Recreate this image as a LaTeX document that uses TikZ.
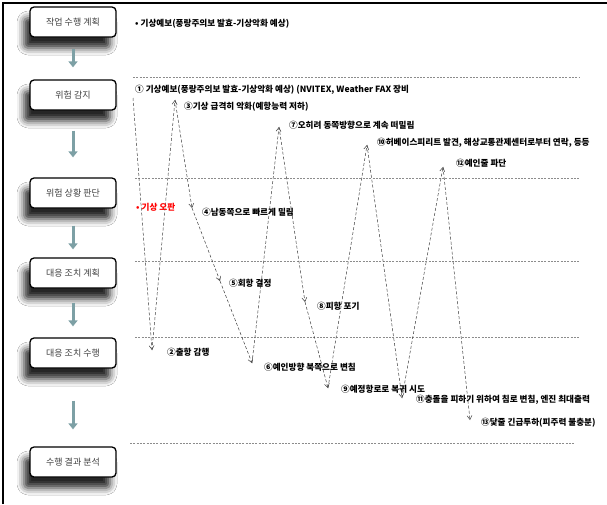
\documentclass[tikz,border=0pt]{standalone}
\usepackage{fontspec}
\newfontfamily\kr{Noto Sans CJK KR}
\usetikzlibrary{arrows.meta,shadows.blur}
\begin{document}
\begin{tikzpicture}[x=1pt,y=-1pt,
  stagebox/.style={draw=black, line width=1.3pt, rounded corners=4pt, fill=white,
    minimum width=86pt, minimum height=30pt, inner sep=0pt,
    font=\kr\fontsize{9}{10}\selectfont, text=black!75,
    blur shadow={shadow xshift=-6pt, shadow yshift=-11pt, shadow blur radius=7pt, shadow opacity=85}},
  flowarrow/.style={draw={rgb,255:red,125;green,160;blue,165}, line width=3pt,
    -{Triangle[length=6pt,width=9pt]}},
  zz/.style={draw=black!75, line width=0.5pt, dash pattern=on 3pt off 2pt,
    -{Straight Barb[length=4pt,width=5pt]}},
  phase/.style={draw=black!45, line width=1pt, dash pattern=on 2pt off 1.3pt},
  lbl/.style={anchor=west, inner sep=0pt, font=\kr\bfseries\fontsize{8.6}{9}\selectfont, text=black},
]
\useasboundingbox (0,0) rectangle (607,504);
\fill[white] (0,0) rectangle (607,504);
% frame
\draw[line width=2.5pt] (3,504) -- (3,3) -- (607,3);

% stage boxes
\node[stagebox] (b1) at (73,22) {작업 수행 계획};
\node[stagebox] (b2) at (73,95) {위험 감지};
\node[stagebox] (b3) at (73,193) {위험 상황 판단};
\node[stagebox] (b4) at (73,273) {대응 조치 계획};
\node[stagebox] (b5) at (73,353) {대응 조치 수행};
\node[stagebox] (b6) at (73,462) {수행 결과 분석};

\draw[flowarrow, shorten <=11pt, shorten >=12pt] (b1.south) -- (b2.north);
\draw[flowarrow, shorten <=20pt, shorten >=20pt] (b2.south) -- (b3.north);
\draw[flowarrow, shorten <=17pt, shorten >=8pt] (b3.south) -- (b4.north);
\draw[flowarrow, shorten <=14pt, shorten >=11pt] (b4.south) -- (b5.north);
\draw[flowarrow, shorten <=32pt, shorten >=17pt] (b5.south) -- (b6.north);

% phase lines
\draw[phase] (133,77) -- (580,77);
\draw[phase] (135,178) -- (580,178);
\draw[phase] (135,261) -- (580,261);
\draw[phase] (135,337) -- (580,337);
\draw[phase] (130,443) -- (575,443);

% top note
\node[lbl] (n0) at (135,24) {• 기상예보(풍랑주의보 발효-기상악화 예상)};

% zigzag points
\coordinate (p0) at (133,98);
\coordinate (a2) at (152,350);
\coordinate (a3) at (175,100);
\coordinate (a4) at (192,208);
\coordinate (a5) at (220,281);
\coordinate (a6) at (252,363);
\coordinate (a7) at (279,127);
\coordinate (a8) at (305,302);
\coordinate (a9) at (328,388);
\coordinate (a10) at (367,145);
\coordinate (a11) at (402,398);
\coordinate (a12) at (443,167);
\coordinate (a13) at (470,420);

\draw[zz] (p0) -- (a2);
\draw[zz] (a2) -- (a3);
\draw[zz] (a3) -- (a4);
\draw[zz] (a4) -- (a5);
\draw[zz] (a5) -- (a6);
\draw[zz] (a6) -- (a7);
\draw[zz] (a7) -- (a8);
\draw[zz] (a8) -- (a9);
\draw[zz] (a9) -- (a10);
\draw[zz] (a10) -- (a11);
\draw[zz] (a11) -- (a12);
\draw[zz] (a12) -- (a13);

% labels
\node[lbl] (l1) at (135,90) {① 기상예보(풍랑주의보 발효-기상악화 예상) (NVITEX, Weather FAX 장비};
\node[lbl] (l3) at (184,107) {③기상 급격히 악화(예항능력 저하)};
\node[lbl] (l7) at (289,125) {⑦오히려 동쪽방향으로 계속 떠밀림};
\node[lbl] (l10) at (377,143) {⑩허베이스피리트 발견, 해상교통관제센터로부터 연락, 등등};
\node[lbl] (l12) at (456,163) {⑫예인줄 파단};
\node[lbl, text=red] (lr) at (136,207) {• 기상 오판};
\node[lbl] (l4) at (202,212) {④남동쪽으로 빠르게 밀림};
\node[lbl] (l5) at (229,283) {⑤회항 결정};
\node[lbl] (l8) at (317,306) {⑧피항 포기};
\node[lbl] (l2) at (167,352) {②출항 감행};
\node[lbl] (l6) at (264,367) {⑥예인방향 북쪽으로 변침};
\node[lbl] (l9) at (341,389) {⑨예정항로로 복귀 시도};
\node[lbl] (l11) at (416,400) {⑪충돌을 피하기 위하여 침로 변침, 엔진 최대출력};
\node[lbl] (l13) at (481,423) {⑬닻줄 긴급투하(피주력 불충분)};
\end{tikzpicture}
\end{document}
